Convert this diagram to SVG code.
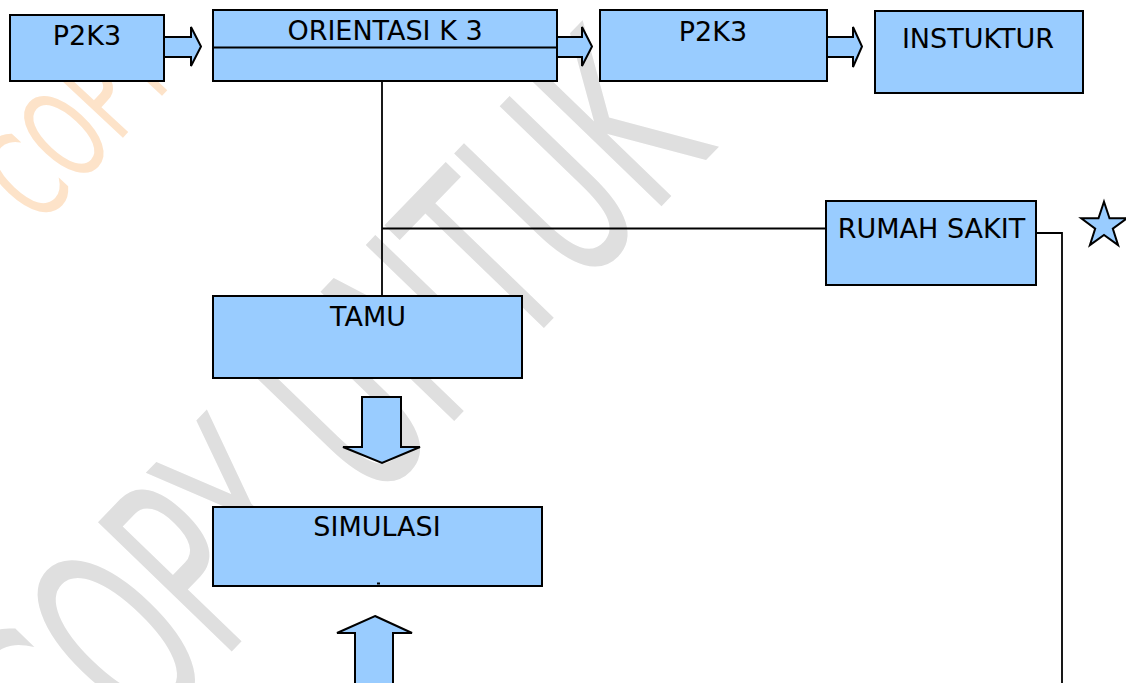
<svg xmlns="http://www.w3.org/2000/svg" width="1126" height="683" viewBox="0 0 1126 683">
<style>
.box{fill:#99ccff;stroke:#000;stroke-width:2}
.arr{fill:#99ccff;stroke:#000;stroke-width:2;stroke-linejoin:miter}
.lbl{font-family:"DejaVu Sans",Verdana,sans-serif;font-size:27px;fill:#000;text-anchor:middle}
.con{fill:none;stroke:#000;stroke-width:1.8}
.wm{font-family:"DejaVu Sans",sans-serif}
</style>
<rect width="1126" height="683" fill="#fff"/>
<g id="watermark">
<text class="wm" transform="translate(233,650) rotate(-46) scale(0.56,1)" x="-407" y="0" font-size="255" fill="#dfdfdf">COPY UNTUK</text>
<text class="wm" transform="translate(90,173) rotate(-47) scale(0.62,1)" x="-120" y="0" font-size="125" fill="#fde3c9">COPY</text>
</g>
<g id="connectors">
<line class="con" x1="382" y1="81" x2="382" y2="296"/>
<line class="con" x1="382" y1="228.5" x2="826" y2="228.5"/>
<polyline class="con" points="1025,233 1062,233 1062,690"/>
<polygon class="arr" points="164,37 191,37 191,27 201,46.5 191,66 191,57 164,57"/>
<polygon class="arr" points="557,37 582,37 582,27 592,46.5 582,66 582,57 557,57"/>
<polygon class="arr" points="827,37 853,37 853,27 862,46.5 853,67 853,57 827,57"/>
<polygon class="arr" points="362,397 401,397 401,447 420,447 382,463 343,447 362,447"/>
<polygon class="arr" points="375,616 412,633 393,633 393,690 355,690 355,633 337,633"/>
</g>
<g id="node-p2k3-left">
<rect class="box" x="10" y="15" width="154" height="66"/>
<text class="lbl" x="87" y="45">P2K3</text>
</g>
<g id="node-orientasi">
<rect class="box" x="213" y="10" width="344" height="71"/>
<line x1="213" y1="47.5" x2="557" y2="47.5" stroke="#000" stroke-width="2"/>
<text class="lbl" x="385" y="40">ORIENTASI K 3</text>
</g>
<g id="node-p2k3-mid">
<rect class="box" x="600" y="10" width="227" height="71"/>
<text class="lbl" x="713" y="41">P2K3</text>
</g>
<g id="node-instuktur">
<rect class="box" x="875" y="11" width="208" height="82"/>
<text class="lbl" x="978" y="48">INSTUKTUR</text>
</g>
<g id="node-rumah-sakit">
<rect class="box" x="826" y="201" width="210" height="84"/>
<text class="lbl" x="931.5" y="238">RUMAH SAKIT</text>
</g>
<g id="node-star">
<polygon points="1104,201.7 1109.5,218.2 1126.8,218.3 1112.8,228.6 1118.1,245.1 1104,235 1089.9,245.1 1095.2,228.6 1081.2,218.3 1098.5,218.2" fill="#99ccff" stroke="#000" stroke-width="2" stroke-linejoin="miter"/>
</g>
<g id="node-tamu">
<rect class="box" x="213" y="296" width="309" height="82"/>
<text class="lbl" x="368" y="326">TAMU</text>
</g>
<g id="node-simulasi">
<rect class="box" x="213" y="507" width="329" height="79"/>
<text class="lbl" x="377" y="536">SIMULASI</text>
<rect x="377" y="582.5" width="3" height="2" fill="#000"/>
</g>
</svg>
